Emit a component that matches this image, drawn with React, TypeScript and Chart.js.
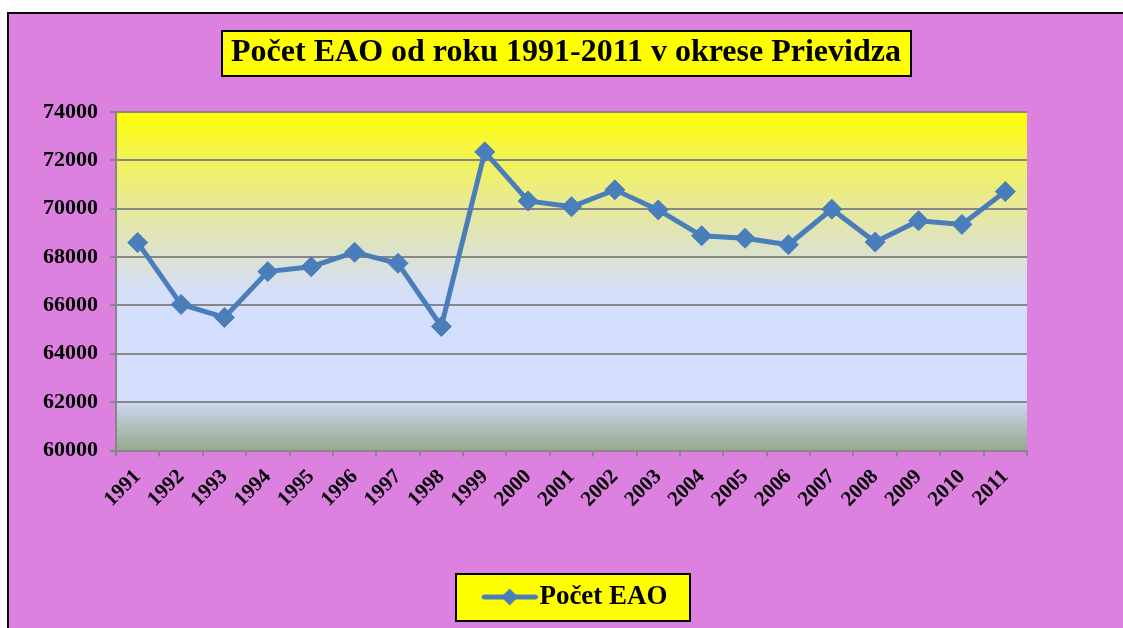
import React, { useEffect, useRef } from 'react';
import { Chart, registerables } from 'chart.js';

Chart.register(...registerables);

const TITLE = 'Počet EAO od roku 1991-2011 v okrese Prievidza';
const SERIES_LABEL = 'Počet EAO';
const YEARS = ['1991', '1992', '1993', '1994', '1995', '1996', '1997', '1998', '1999', '2000', '2001', '2002', '2003', '2004', '2005', '2006', '2007', '2008', '2009', '2010', '2011'];
const VALUES = [68600, 66040, 65500, 67400, 67600, 68200, 67740, 65130, 72350, 70320, 70080, 70780, 69950, 68880, 68780, 68510, 69980, 68620, 69500, 69350, 70710];
const Y_MIN = 60000;
const Y_MAX = 74000;
const Y_STEP = 2000;

const FONT = 'Liberation Serif';
const LINE_COLOR = '#4A7EBB';
const GRID_COLOR = '#878787';
const PINK = '#DC81E0';

const TITLE_SIZE = 32;
const TITLE_PAD_TOP = 20;
const LEGEND_SIZE = 27;

function makeLegendIcon(): HTMLCanvasElement {
  const c = document.createElement('canvas');
  c.width = 74;
  c.height = 20;
  const g = c.getContext('2d')!;
  g.strokeStyle = LINE_COLOR;
  g.lineWidth = 5;
  g.lineCap = 'round';
  g.beginPath();
  g.moveTo(20.5, 10);
  g.lineTo(71.5, 10);
  g.stroke();
  g.fillStyle = LINE_COLOR;
  g.beginPath();
  g.moveTo(46, 1.5);
  g.lineTo(54.5, 10);
  g.lineTo(46, 18.5);
  g.lineTo(37.5, 10);
  g.closePath();
  g.fill();
  return c;
}

const decorPlugin = {
  id: 'decor',
  beforeDraw(chart: any) {
    const { ctx, chartArea: ca } = chart;
    ctx.save();
    // plot area gradient
    const g = ctx.createLinearGradient(0, ca.top, 0, ca.bottom);
    g.addColorStop(0, '#FFFF00');
    g.addColorStop(0.12, '#F4F44E');
    g.addColorStop(0.28, '#E7E999');
    g.addColorStop(0.42, '#DCE2CE');
    g.addColorStop(0.52, '#D5DFF6');
    g.addColorStop(0.58, '#D4DEFD');
    g.addColorStop(0.855, '#D4DEFD');
    g.addColorStop(0.87, '#C7D2E6');
    g.addColorStop(1, '#96A890');
    ctx.fillStyle = g;
    ctx.fillRect(ca.left, ca.top, ca.right - ca.left, ca.bottom - ca.top);

    // title box
    const tb = chart.titleBlock;
    if (tb) {
      ctx.font = `bold ${TITLE_SIZE}px "${FONT}"`;
      const tw = ctx.measureText(TITLE).width;
      const cx = (tb.left + tb.right) / 2;
      const cy = tb.top + TITLE_PAD_TOP + (TITLE_SIZE * 1.2) / 2;
      const x0 = Math.round(cx - tw / 2 - 9);
      const x1 = Math.round(cx + tw / 2 + 10);
      const y0 = Math.round(cy - 22.5);
      const y1 = Math.round(cy + 22.5);
      ctx.fillStyle = '#FFFF00';
      ctx.fillRect(x0, y0, x1 - x0, y1 - y0);
      ctx.lineWidth = 2;
      ctx.strokeStyle = '#000';
      ctx.strokeRect(x0, y0, x1 - x0, y1 - y0);
    }

    // legend box
    const lg = chart.legend;
    if (lg && lg.legendHitBoxes && lg.legendHitBoxes.length) {
      const hb = lg.legendHitBoxes[0];
      const cy = hb.top + hb.height / 2;
      const x0 = Math.round(hb.left - 19);
      const x1 = Math.round(hb.left + hb.width + 22);
      const y0 = Math.round(cy - 23.5);
      const y1 = Math.round(cy + 23.5);
      ctx.fillStyle = '#FFFF00';
      ctx.fillRect(x0, y0, x1 - x0, y1 - y0);
      ctx.lineWidth = 2;
      ctx.strokeStyle = '#000';
      ctx.strokeRect(x0, y0, x1 - x0, y1 - y0);
    }
    ctx.restore();
  },
};

export default function App() {
  const ref = useRef<HTMLCanvasElement>(null);

  useEffect(() => {
    if (!ref.current) return;
    const icon = makeLegendIcon();
    const chart = new Chart(ref.current, {
      type: 'line',
      data: {
        labels: YEARS,
        datasets: [
          {
            label: SERIES_LABEL,
            data: VALUES,
            borderColor: LINE_COLOR,
            backgroundColor: LINE_COLOR,
            borderWidth: 5,
            tension: 0,
            fill: false,
            pointStyle: 'rectRot',
            pointRadius: 10,
            pointHoverRadius: 10,
            pointBackgroundColor: LINE_COLOR,
            pointBorderColor: LINE_COLOR,
            pointBorderWidth: 1,
          },
        ],
      },
      options: {
        responsive: false,
        animation: false,
        layout: { padding: { top: 0, left: 0, right: 0, bottom: 7.5 } },
        plugins: {
          title: {
            display: true,
            text: TITLE,
            color: '#000',
            font: { family: FONT, size: TITLE_SIZE, weight: 'bold', lineHeight: 1.2 },
            padding: { top: TITLE_PAD_TOP, bottom: 39.6 },
          },
          legend: {
            display: true,
            position: 'bottom',
            fullSize: false,
            labels: {
              usePointStyle: true,
              pointStyleWidth: 50.5,
              color: '#000',
              padding: 10,
              font: { family: FONT, size: LEGEND_SIZE, weight: 'bold' },
              generateLabels: (c: any) =>
                Chart.defaults.plugins.legend.labels
                  .generateLabels(c)
                  .map((l: any) => ({ ...l, pointStyle: icon, fontColor: '#000' })),
            },
          },
          tooltip: { enabled: false },
        },
        scales: {
          x: {
            offset: true,
            grid: {
              display: true,
              drawOnChartArea: false,
              drawTicks: true,
              tickLength: 6,
              offset: true,
              color: GRID_COLOR,
              lineWidth: 2,
            },
            border: { display: true, color: GRID_COLOR, width: 2 },
            ticks: {
              autoSkip: false,
              minRotation: 45,
              maxRotation: 45,
              padding: 8,
              color: '#000',
              font: { family: FONT, size: 21, weight: 'bold' },
            },
            afterFit: (s: any) => {
              s.height = 123;
              s.paddingLeft = 0;
              s.paddingRight = 96;
            },
          },
          y: {
            min: Y_MIN,
            max: Y_MAX,
            grid: {
              color: GRID_COLOR,
              lineWidth: 2,
              drawTicks: true,
              tickLength: 6,
            },
            border: { display: true, color: GRID_COLOR, width: 2 },
            ticks: {
              stepSize: Y_STEP,
              padding: 12,
              color: '#000',
              font: { family: FONT, size: 22, weight: 'bold' },
              callback: (v: any) => String(v),
            },
            afterFit: (s: any) => {
              s.width = 107;
            },
          },
        },
      },
      plugins: [decorPlugin],
    });
    return () => chart.destroy();
  }, []);

  return (
    <div
      style={{
        position: 'absolute',
        left: 7,
        top: 12,
        width: 1116,
        height: 616,
        borderLeft: '2px solid #000',
        borderTop: '2px solid #000',
        background: PINK,
        overflow: 'hidden',
        boxSizing: 'border-box',
      }}
    >
      <canvas ref={ref} width={1114} height={614} style={{ display: 'block' }} />
    </div>
  );
}
